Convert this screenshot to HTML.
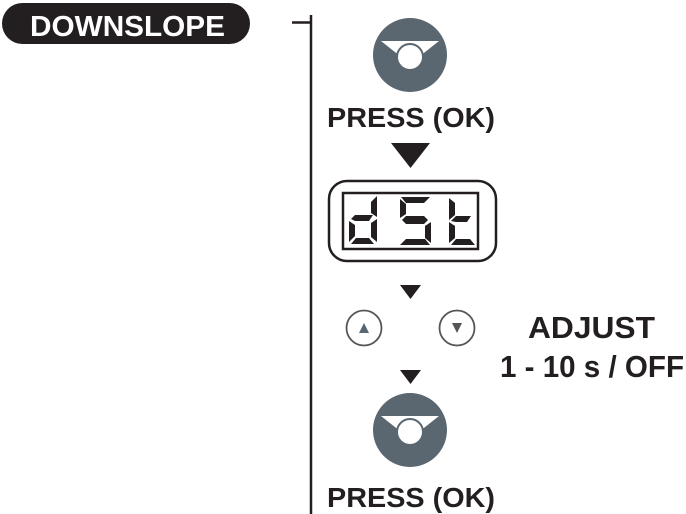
<!DOCTYPE html>
<html><head><style>html,body{margin:0;padding:0;background:#fff;}svg{display:block}</style></head>
<body>
<svg width="686" height="514" viewBox="0 0 686 514" xmlns="http://www.w3.org/2000/svg" font-family="Liberation Sans, sans-serif" font-weight="bold">
<rect x="2" y="3" width="248" height="41" rx="20.5" fill="#231f20"/>
<text x="30" y="36" font-size="29" fill="#fff" textLength="195" lengthAdjust="spacingAndGlyphs">DOWNSLOPE</text>
<line x1="311" y1="15" x2="311" y2="514" stroke="#231f20" stroke-width="2.5"/>
<line x1="292" y1="22.5" x2="311" y2="22.5" stroke="#231f20" stroke-width="2.5"/>
<g id="btn">
<circle cx="410" cy="55" r="37" fill="#5a6670"/>
<polygon points="381,41 439,41 410,64" fill="#fff"/>
<circle cx="410" cy="57" r="13" fill="#fff" stroke="#5a6670" stroke-width="2"/>
</g>
<text x="327" y="127" font-size="28" fill="#231f20" textLength="168" lengthAdjust="spacingAndGlyphs">PRESS (OK)</text>
<polygon points="391,143 430,143 410.5,168" fill="#231f20"/>
<rect x="329" y="181" width="167" height="80" rx="18" fill="none" stroke="#231f20" stroke-width="2.5"/>
<rect x="343" y="193" width="135" height="56" fill="none" stroke="#231f20" stroke-width="2.5"/>
<g fill="#231f20">
<!-- d -->
<polygon points="351,219 355,215 373,215 369,221 355,221"/>
<polygon points="349,221 355,225 355,236 349,242"/>
<polygon points="351,244 356,238 369,238 374,244"/>
<polygon points="377,196 371,202 371,213 377,217"/>
<polygon points="377,219 371,223 371,237 377,242"/>
<!-- S -->
<polygon points="401,197 430,197 424,203 406,203"/>
<polygon points="400,199 406,204 406,214 400,218"/>
<polygon points="402,220 406,216 424,216 428,220 424,224 406,224"/>
<polygon points="431,222 425,226 425,238 431,243"/>
<polygon points="400,245 406,239 425,239 430,245"/>
<!-- t -->
<polygon points="449,198 455,203 455,215 449,220"/>
<polygon points="451,221 456,216 471,216 467,222 456,222"/>
<polygon points="449,222 455,226 455,238 449,243"/>
<polygon points="451,245 456,239 470,239 475,245"/>
</g>
<polygon points="400,285 421,285 410.5,299" fill="#231f20"/>
<circle cx="364" cy="328" r="17.5" fill="none" stroke="#555" stroke-width="1.8"/>
<polygon points="359,333 369,333 364,323" fill="#5a6670"/>
<circle cx="457" cy="328" r="17.5" fill="none" stroke="#555" stroke-width="1.8"/>
<polygon points="452,323 462,323 457,333" fill="#555"/>
<polygon points="400,370 421,370 410.5,384" fill="#231f20"/>
<text x="528" y="338" font-size="31" fill="#231f20" textLength="127" lengthAdjust="spacingAndGlyphs">ADJUST</text>
<text x="500" y="377" font-size="31" fill="#231f20" textLength="184" lengthAdjust="spacingAndGlyphs">1 - 10 s / OFF</text>
<use href="#btn" transform="translate(0,375)"/>
<text x="327" y="507" font-size="28" fill="#231f20" textLength="168" lengthAdjust="spacingAndGlyphs">PRESS (OK)</text>
</svg>
</body></html>
